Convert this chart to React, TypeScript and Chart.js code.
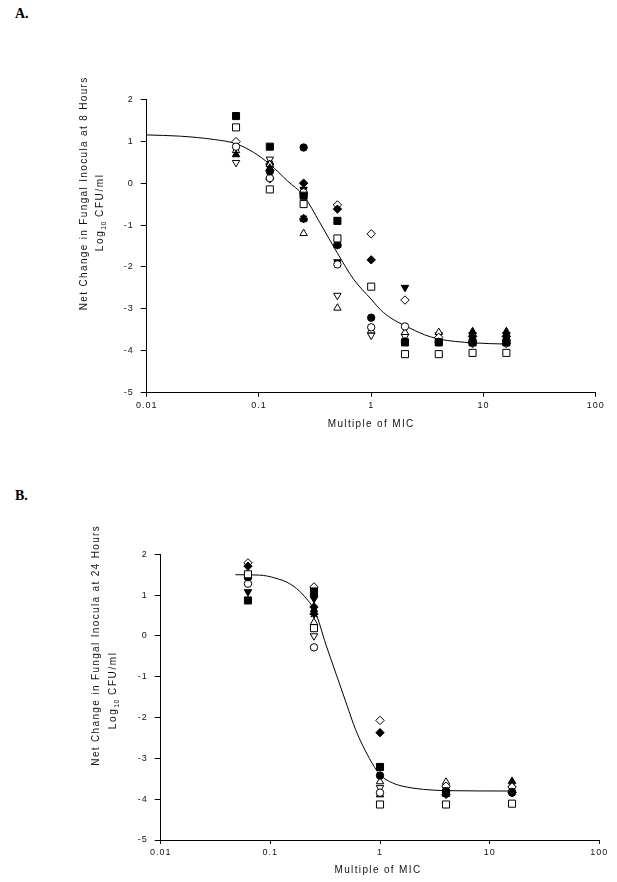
import React, { useEffect, useRef } from "react";
import { Chart, registerables } from "chart.js";

Chart.register(...registerables);

// ---------- axis ticks ----------
const X_TICKS = [0.01, 0.1, 1, 10, 100];
const X_TICK_LABELS = ["0.01", "0.1", "1", "10", "100"];
const Y_MIN = -5;
const Y_MAX = 2;

// ---------- texts ----------
const X_TITLE = "Multiple of MIC";
const A_Y_TITLE = "Net Change in Fungal Inocula at 8 Hours";
const B_Y_TITLE = "Net Change in Fungal Inocula at 24 Hours";
const Y_UNIT = ["Log", "10", " CFU/ml"];

// ---------- Panel A (8 hours) ----------  (null = no visible mark)
const A_MIC = [0.0625, 0.125, 0.25, 0.5, 1, 2, 4, 8, 16];
const A_filledSquare = [1.6, 0.87, -0.3, -0.9, null, -3.8, -3.8, -3.8, -3.8];
const A_openSquare = [1.33, -0.15, -0.5, -1.32, -2.47, -4.08, -4.08, -4.05, -4.05];
const A_filledCircle = [null, 0.28, 0.85, -1.47, -3.21, -3.78, -3.79, -3.78, -3.76];
const A_openCircle = [0.87, 0.12, -0.22, -1.94, -3.44, -3.42, -3.79, -3.8, -3.8];
const A_filledDiamond = [null, 0.3, 0.0, -0.62, -1.83, null, null, -3.66, -3.66];
const A_openDiamond = [0.99, 0.1, -0.25, -0.52, -1.21, -2.79, -3.68, -3.83, -3.83];
const A_filledTriUp = [0.68, 0.36, -0.85, -1.48, null, null, null, -3.54, -3.54];
const A_openTriUp = [0.78, 0.45, -1.2, -2.98, -3.52, -3.56, -3.56, -3.6, -3.6];
const A_filledTriDown = [null, 0.4, -0.15, -1.88, null, -2.49, null, null, null];
const A_openTriDown = [0.49, 0.57, -0.35, -2.68, -3.63, -3.66, -3.62, -3.62, -3.62];
const A_star = [null, 0.45, -0.85, -1.48, null, null, null, null, null];

const A_CURVE_X = [0.01, 0.02, 0.04, 0.0625, 0.09, 0.125, 0.18, 0.25, 0.35, 0.5, 0.7, 1, 1.23, 1.5, 2, 3, 4, 8, 16];
const A_CURVE_Y = [1.15, 1.12, 1.04, 0.94, 0.73, 0.45, 0.05, -0.3, -0.95, -1.67, -2.3, -2.77, -3.04, -3.22, -3.4, -3.62, -3.72, -3.81, -3.84];

// ---------- Panel B (24 hours) ----------
const B_MIC = [0.0625, 0.25, 1, 4, 16];
const B_filledSquare = [0.87, 1.09, -3.21, -3.85, null];
const B_openSquare = [1.51, 0.19, -4.13, -4.13, -4.11];
const B_filledCircle = [1.44, 0.99, -3.42, -3.8, -3.84];
const B_openCircle = [1.28, -0.28, -3.84, -3.82, -3.82];
const B_filledDiamond = [1.71, 0.71, -2.37, -3.88, -3.84];
const B_openDiamond = [1.79, 1.2, -2.07, -3.68, -3.7];
const B_filledTriUp = [1.45, 0.64, -3.89, null, -3.56];
const B_openTriUp = [null, 0.33, -3.57, -3.58, -3.65];
const B_filledTriDown = [1.08, 0.91, null, null, null];
const B_openTriDown = [null, 0.0, -3.72, -3.75, -3.75];
const B_star = [null, 0.54, null, null, null];

const B_CURVE_X = [0.048, 0.08, 0.11, 0.15, 0.2, 0.26, 0.32, 0.4, 0.5, 0.6, 0.8, 1, 1.3, 1.6, 2.5, 4, 16];
const B_CURVE_Y = [1.5, 1.49, 1.42, 1.28, 1.0, 0.55, -0.2, -0.95, -1.7, -2.3, -3.0, -3.4, -3.6, -3.68, -3.76, -3.79, -3.8];

// ---------- marker styles ----------
type Marker = { style: string; fill: boolean; r: number; rot?: number; bw?: number };
const M = {
  filledSquare: { style: "rect", fill: true, r: 5 },
  openSquare: { style: "rect", fill: false, r: 5 },
  filledCircle: { style: "circle", fill: true, r: 3.7 },
  openCircle: { style: "circle", fill: false, r: 3.7 },
  filledDiamond: { style: "rectRot", fill: true, r: 4.2 },
  openDiamond: { style: "rectRot", fill: false, r: 4.2 },
  filledTriUp: { style: "triangle", fill: true, r: 4.3 },
  openTriUp: { style: "triangle", fill: false, r: 4.3 },
  filledTriDown: { style: "triangle", fill: true, r: 4.3, rot: 180 },
  openTriDown: { style: "triangle", fill: false, r: 4.3, rot: 180 },
  star: { style: "star", fill: false, r: 4.2, bw: 2 },
} as Record<string, Marker>;

const A_SERIES: [string, (number | null)[]][] = [
  ["filledSquare", A_filledSquare],
  ["openSquare", A_openSquare],
  ["filledCircle", A_filledCircle],
  ["openCircle", A_openCircle],
  ["filledDiamond", A_filledDiamond],
  ["openDiamond", A_openDiamond],
  ["filledTriUp", A_filledTriUp],
  ["openTriUp", A_openTriUp],
  ["filledTriDown", A_filledTriDown],
  ["openTriDown", A_openTriDown],
  ["star", A_star],
];
const B_SERIES: [string, (number | null)[]][] = [
  ["filledSquare", B_filledSquare],
  ["openSquare", B_openSquare],
  ["filledCircle", B_filledCircle],
  ["openCircle", B_openCircle],
  ["filledDiamond", B_filledDiamond],
  ["openDiamond", B_openDiamond],
  ["filledTriUp", B_filledTriUp],
  ["openTriUp", B_openTriUp],
  ["filledTriDown", B_filledTriDown],
  ["openTriDown", B_openTriDown],
  ["star", B_star],
];

const SANS = '"Liberation Sans", Arial, sans-serif';
const W = 617;
const YW = 40;
const XH = 30;

type PanelCfg = {
  height: number;
  area: { left: number; top: number; right: number; bottom: number };
  mic: number[];
  series: [string, (number | null)[]][];
  curveX: number[];
  curveY: number[];
  yTitle: string;
  y1: { dx: number; cy: number };
  y2: { dx: number; cy: number };
  xTitleDy: number;
  xTitleDx: number;
};

const titlesPlugin = {
  id: "axisTitles",
  beforeDraw(chart: any) {
    (chart.ctx as any).letterSpacing = "1px";
  },
  afterDraw(chart: any, _args: any, opts: any) {
    const ctx = chart.ctx as any;
    const a = chart.chartArea;
    ctx.save();
    ctx.fillStyle = "#111";
    ctx.font = `10px ${SANS}`;
    ctx.letterSpacing = "1.35px";
    ctx.textBaseline = "middle";
    ctx.textAlign = "center";
    ctx.fillText(opts.xTitle, (a.left + a.right) / 2 + opts.xTitleDx, a.bottom + opts.xTitleDy);

    // y title line 1
    ctx.save();
    ctx.translate(a.left + opts.y1.dx, a.top + opts.y1.cy);
    ctx.rotate(-Math.PI / 2);
    ctx.fillText(opts.yTitle, 0, 0);
    ctx.restore();

    // y title line 2 with subscript
    ctx.save();
    ctx.translate(a.left + opts.y2.dx, a.top + opts.y2.cy);
    ctx.rotate(-Math.PI / 2);
    ctx.textAlign = "left";
    const [p1, sub, p2] = Y_UNIT;
    ctx.font = `10px ${SANS}`;
    ctx.letterSpacing = "1.6px";
    const w1 = ctx.measureText(p1).width;
    const w3 = ctx.measureText(p2).width;
    ctx.font = `7px ${SANS}`;
    ctx.letterSpacing = "0.3px";
    const w2 = ctx.measureText(sub).width;
    const total = w1 + w2 + w3;
    let x = -total / 2;
    ctx.font = `10px ${SANS}`;
    ctx.letterSpacing = "1.6px";
    ctx.fillText(p1, x, 0);
    x += w1;
    ctx.font = `7px ${SANS}`;
    ctx.letterSpacing = "0.3px";
    ctx.fillText(sub, x, 4);
    x += w2;
    ctx.font = `10px ${SANS}`;
    ctx.letterSpacing = "1.6px";
    ctx.fillText(p2, x, 0);
    ctx.restore();

    ctx.restore();
  },
};

function Panel({ cfg, top }: { cfg: PanelCfg; top: number }) {
  const ref = useRef<HTMLCanvasElement>(null);
  useEffect(() => {
    if (!ref.current) return;
    const datasets: any[] = cfg.series.map(([key, vals]) => {
      const m = M[key];
      return {
        label: key,
        data: cfg.mic.map((x, i) => ({ x, y: vals[i] })),
        pointStyle: m.style,
        pointRadius: m.r,
        pointRotation: m.rot || 0,
        pointBackgroundColor: m.fill ? "#000" : "#fff",
        backgroundColor: m.fill ? "#000" : "#fff",
        pointBorderColor: "#000",
        borderColor: "#000",
        pointBorderWidth: m.bw || 1,
        showLine: false,
      };
    });
    datasets.push({
      label: "fit",
      data: cfg.curveX.map((x, i) => ({ x, y: cfg.curveY[i] })),
      showLine: true,
      borderColor: "#000",
      borderWidth: 1,
      pointRadius: 0,
      cubicInterpolationMode: "monotone",
      fill: false,
    });
    const ar = cfg.area;
    const chart = new Chart(ref.current, {
      type: "scatter",
      data: { datasets },
      plugins: [titlesPlugin as any],
      options: {
        animation: false,
        responsive: false,
        devicePixelRatio: 1,
        layout: {
          padding: {
            left: ar.left - YW,
            top: ar.top,
            right: W - ar.right,
            bottom: cfg.height - ar.bottom - XH,
          },
        },
        plugins: {
          legend: { display: false },
          tooltip: { enabled: false },
          axisTitles: {
            xTitle: X_TITLE,
            yTitle: cfg.yTitle,
            y1: cfg.y1,
            y2: cfg.y2,
            xTitleDy: cfg.xTitleDy,
            xTitleDx: cfg.xTitleDx,
          },
        } as any,
        scales: {
          x: {
            type: "logarithmic",
            min: 0.01,
            max: 100,
            afterBuildTicks: (s: any) => {
              s.ticks = X_TICKS.map((v) => ({ value: v, major: true }));
            },
            afterFit: (s: any) => {
              s.height = XH;
            },
            ticks: {
              autoSkip: false,
              maxRotation: 0,
              padding: 3,
              color: "#111",
              font: { family: SANS, size: 9 },
              callback: (_v: any, i: number) => X_TICK_LABELS[i],
            },
            grid: { drawOnChartArea: false, drawTicks: true, tickLength: 4, color: "#000" },
            border: { display: true, color: "#000", width: 1 },
          },
          y: {
            type: "linear",
            min: Y_MIN,
            max: Y_MAX,
            afterFit: (s: any) => {
              s.width = YW;
            },
            ticks: {
              stepSize: 1,
              padding: 7,
              color: "#111",
              font: { family: SANS, size: 9 },
            },
            grid: { drawOnChartArea: false, drawTicks: true, tickLength: 6, color: "#000" },
            border: { display: true, color: "#000", width: 1 },
          },
        } as any,
      },
    });
    return () => chart.destroy();
  }, [cfg]);
  return (
    <canvas
      ref={ref}
      width={W}
      height={cfg.height}
      style={{ position: "absolute", left: 0, top, width: W, height: cfg.height, display: "block" }}
    />
  );
}

const PANEL_A: PanelCfg = {
  height: 450,
  area: { left: 146.7, top: 99.3, right: 595.7, bottom: 392.7 },
  mic: A_MIC,
  series: A_SERIES,
  curveX: A_CURVE_X,
  curveY: A_CURVE_Y,
  yTitle: A_Y_TITLE,
  y1: { dx: -62, cy: 94 },
  y2: { dx: -46.5, cy: 113 },
  xTitleDy: 31.5,
  xTitleDx: 0,
};

const PANEL_B: PanelCfg = {
  height: 432,
  area: { left: 160.7, top: 104.3, right: 599.3, bottom: 390 },
  mic: B_MIC,
  series: B_SERIES,
  curveX: B_CURVE_X,
  curveY: B_CURVE_Y,
  yTitle: B_Y_TITLE,
  y1: { dx: -64, cy: 91 },
  y2: { dx: -47.5, cy: 136 },
  xTitleDy: 30,
  xTitleDx: -2,
};

const panelLetter: React.CSSProperties = {
  position: "absolute",
  left: 15,
  fontFamily: '"Liberation Serif", "Times New Roman", serif',
  fontWeight: "bold",
  fontSize: 14,
  lineHeight: "16px",
  color: "#000",
};

export default function App() {
  return (
    <div style={{ position: "absolute", left: 0, top: 0, width: W, height: 882, background: "#fff", overflow: "hidden" }}>
      <div style={{ ...panelLetter, top: 6 }}>A.</div>
      <div style={{ ...panelLetter, top: 488 }}>B.</div>
      <Panel cfg={PANEL_A} top={0} />
      <Panel cfg={PANEL_B} top={450} />
    </div>
  );
}
